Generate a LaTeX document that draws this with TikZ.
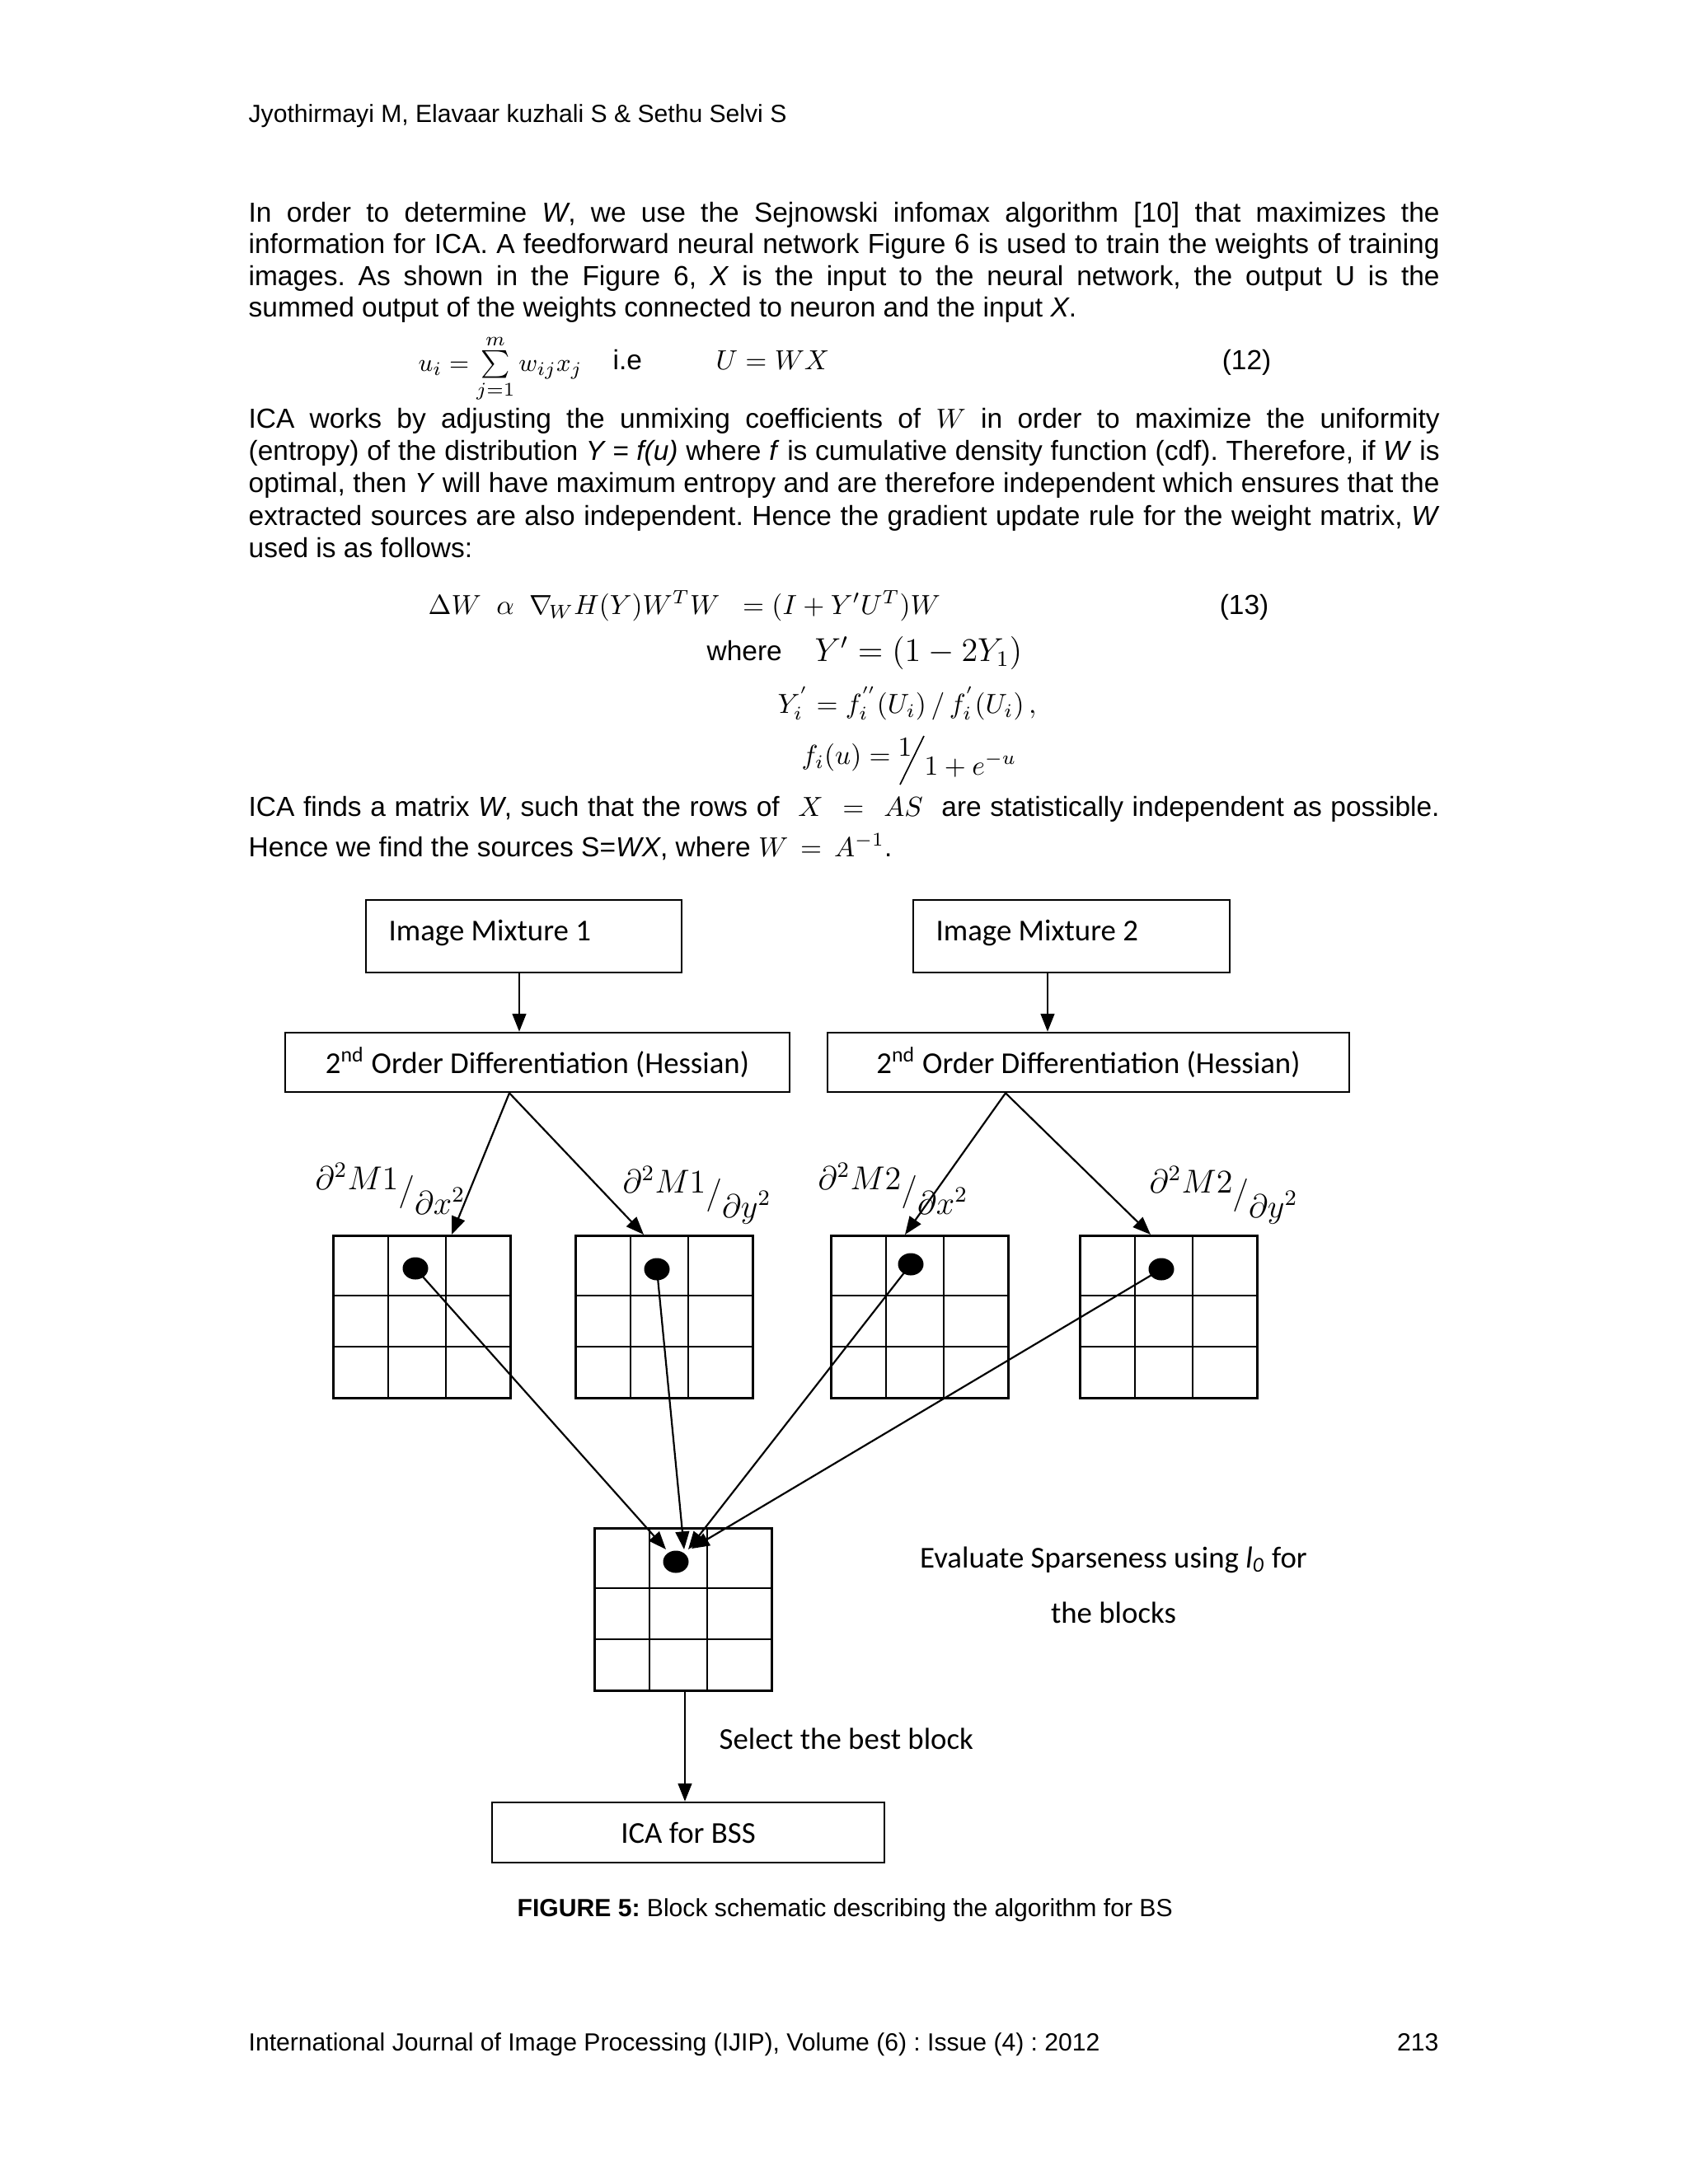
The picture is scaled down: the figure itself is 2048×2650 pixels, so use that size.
\documentclass[tikz,border=0pt]{standalone}
\usepackage{fontspec}
\setmainfont{Liberation Sans}
\newfontfamily\calib{Carlito}
\usetikzlibrary{arrows.meta,calc,shapes.geometric}
\frenchspacing
\newcommand\pxu{0.29883pt}
\newcommand\jwidth{431.8pt}
\tikzset{
  txt/.style={anchor=base west, inner sep=0pt, font=\fontsize{10}{12}\selectfont},
  stxt/.style={anchor=base west, inner sep=0pt, font=\fontsize{9}{11}\selectfont},
  ftxt/.style={inner sep=0pt, font=\calib\fontsize{11}{13}\selectfont},
  fbox/.style={draw, line width=0.75pt, inner sep=0pt, font=\calib\fontsize{11}{13}\selectfont},
  gridbox/.style={draw, line width=0.75pt, inner sep=0pt, minimum width={215*\pxu}, minimum height={197*\pxu}},
  gline/.style={line width=0.6pt},
  dotnode/.style={ellipse, fill=black, inner sep=0pt, minimum width={31*\pxu}, minimum height={27*\pxu}},
  arr/.style={-{Triangle[length=6.5pt,width=5pt]}, line width=0.65pt},
  lbl/.style={anchor=base west, inner sep=0pt, font=\fontsize{12}{14}\selectfont}
}
\newcommand\jline[3]{\node[txt] (#1) at (301,#2) {\makebox[\jwidth][s]{#3}};}
\newcommand\gridat[3]{%
  \node[gridbox, anchor=north west] (#1) at (#2,#3) {};
  \draw[gline] (#2+68,#3) -- (#2+68,#3+197) (#2+138,#3) -- (#2+138,#3+197)
               (#2,#3+74) -- (#2+215,#3+74) (#2,#3+136) -- (#2+215,#3+136);
}
\newcommand\dfrac[2]{$\partial^2 #1\raisebox{-4pt}{$\big/$}\raisebox{-9pt}{$\partial #2^2$}$}
\begin{document}
\begin{tikzpicture}[x=0.29883pt,y=-0.29883pt]
\fill[white] (0,0) rectangle (2048,2650);
\useasboundingbox (0,0) rectangle (2048,2650);

% header
\node[stxt] (hdr) at (301,148) {Jyothirmayi M, Elavaar kuzhali S \& Sethu Selvi S};

% paragraph 1
\jline{p1a}{269}{In order to determine \textit{W}, we use the Sejnowski infomax algorithm [10] that maximizes the}
\jline{p1b}{307.5}{information for ICA. A feedforward neural network Figure 6 is used to train the weights of training}
\jline{p1c}{346}{images. As shown in the Figure 6, \textit{X} is the input to the neural network, the output U is the}
\node[txt] (p1d) at (301,384.5) {summed output of the weights connected to neuron and the input \textit{X}.};

% equation 12
\node[txt, font=\fontsize{9.5}{11}\selectfont] (e12a) at (507,450) {$u_i=\sum\limits_{j=1}^{m}w_{ij}x_j$};
\node[txt] (e12b) at (743,448) {i.e};
\node[txt] (e12c) at (868,448) {$U=WX$};
\node[txt, anchor=base east] (e12n) at (1543,448) {(12)};

% paragraph 2
\jline{p2a}{519}{ICA works by adjusting the unmixing coefficients of $W$ in order to maximize the uniformity}
\jline{p2b}{558}{(entropy) of the distribution \textit{Y = f(u)} where \textit{f} is cumulative density function (cdf). Therefore, if \textit{W} is}
\jline{p2c}{597}{optimal, then \textit{Y} will have maximum entropy and are therefore independent which ensures that the}
\jline{p2d}{637}{extracted sources are also independent. Hence the gradient update rule for the weight matrix, \textit{W}}
\node[txt] (p2e) at (301,676) {used is as follows:};

% equation 13
\node[txt] (e13a) at (519,745) {$\Delta W\ \ \alpha\ \ \nabla_{\!W}H(Y)W^{T}W\ \ =(I+Y'U^{T})W$};
\node[txt, anchor=base east] (e13n) at (1540,745) {(13)};
\node[txt] (wh) at (857,801) {where};
\node[txt, font=\fontsize{11.5}{14}\selectfont] (e13e) at (988,802) {$Y'=(1-2Y_1)$};
\node[txt] (e13f) at (943,865) {$Y_i^{'}= f_i^{''}(U_i)\,/\,f_i^{'}(U_i)\,,$};
\node[txt] (e13g) at (972,927) {$f_i(u)=$};
\node[txt] (e13h) at (1089,917) {$1$};
\draw[line width=0.5pt] (1092,952) -- (1121,893);
\node[txt] (e13i) at (1121,940) {$1+e^{-u}$};

\jline{p3a}{990}{ICA finds a matrix \textit{W}, such that the rows of $\;X\;=\;AS\;$ are statistically independent as possible.}
\node[txt] (p3b) at (301,1039) {Hence we find the sources S=\textit{WX}, where $W\,=\,A^{-1}$.};

% ---------------- figure ----------------
\node[fbox, minimum width={383*\pxu}, minimum height={88*\pxu}] (im1) at (635.5,1136) {};
\node[ftxt, anchor=base west] (im1t) at (471,1141) {Image Mixture 1};
\node[fbox, minimum width={384*\pxu}, minimum height={88*\pxu}] (im2) at (1300,1136) {};
\node[ftxt, anchor=base west] (im2t) at (1135,1141) {Image Mixture 2};

\node[fbox, minimum width={612*\pxu}, minimum height={72*\pxu}] (h1) at (652,1289) {2\textsuperscript{nd} Order Differentiation (Hessian)};
\node[fbox, minimum width={633*\pxu}, minimum height={72*\pxu}] (h2) at (1320.5,1289) {2\textsuperscript{nd} Order Differentiation (Hessian)};

\coordinate (x1) at (630,0);
\coordinate (x2) at (1271,0);
\draw[arr] (im1.south -| x1) -- (h1.north -| x1);
\draw[arr] (im2.south -| x2) -- (h2.north -| x2);

% grids
\gridat{g1}{403}{1498}
\gridat{g2}{697}{1498}
\gridat{g3}{1007}{1498}
\gridat{g4}{1309}{1498}
\gridat{g5}{720}{1853}

% labels
\node[lbl] (l1) at (382,1443) {\dfrac{M1}{x}};
\node[lbl] (l2) at (755,1447) {\dfrac{M1}{y}};
\node[lbl] (l3) at (992,1443) {\dfrac{M2}{x}};
\node[lbl] (l4) at (1394,1447) {\dfrac{M2}{y}};

% hessian to grids
\coordinate (ha) at (618,0);
\coordinate (hb) at (1220,0);
\coordinate (t1) at (548,0);
\coordinate (t2) at (781,0);
\coordinate (t3) at (1098,0);
\coordinate (t4) at (1396,0);
\draw[arr] (h1.south -| ha) -- (g1.north -| t1);
\draw[arr] (h1.south -| ha) -- (g2.north -| t2);
\draw[arr] (h2.south -| hb) -- (g3.north -| t3);
\draw[arr] (h2.south -| hb) -- (g4.north -| t4);

% dots
\node[dotnode] (d1) at (504,1539) {};
\node[dotnode] (d2) at (797,1540) {};
\node[dotnode] (d3) at (1105,1534) {};
\node[dotnode] (d4) at (1409,1540) {};
\node[dotnode] (d5) at (820,1895) {};

\coordinate (e1) at (808,1880);
\coordinate (e2) at (830,1880);
\coordinate (e3) at (835,1880);
\coordinate (e4) at (839,1879);
\draw[arr] (d1.center) -- (e1);
\draw[arr] (d2.center) -- (e2);
\draw[arr] (d3.center) -- (e3);
\draw[arr] (d4.center) -- (e4);

% texts
\node[ftxt, anchor=base] (ev1) at (1351,1902) {Evaluate Sparseness using \textit{l}\textsubscript{\textit{0}} for};
\node[ftxt, anchor=base] (ev2) at (1351,1969) {the blocks};

\node[fbox, minimum width={476*\pxu}, minimum height={73*\pxu}] (ica) at (835,2223.5) {ICA for BSS};
\coordinate (x5) at (831,0);
\draw[arr] (g5.south -| x5) -- (ica.north -| x5);
\node[ftxt, anchor=base west] (sel) at (872,2122) {Select the best block};

% caption
\node[stxt] (cap) at (627,2325) {\textbf{FIGURE 5:} Block schematic describing the algorithm for BS};

% footer
\node[stxt] (ftr) at (301,2488) {International Journal of Image Processing (IJIP), Volume (6) : Issue (4) : 2012};
\node[stxt, anchor=base east] (pg) at (1746,2488) {213};
\end{tikzpicture}
\end{document}
